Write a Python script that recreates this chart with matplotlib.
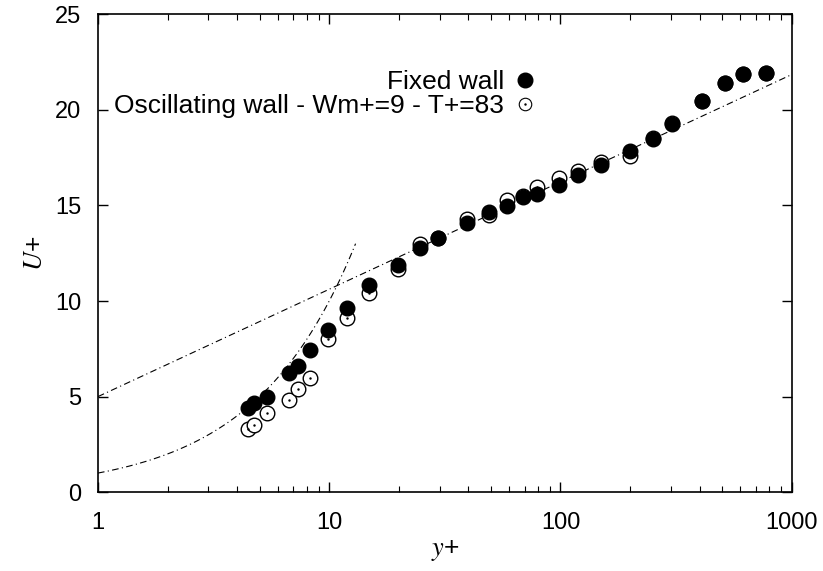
import matplotlib
matplotlib.use("Agg")
import matplotlib.pyplot as plt
import numpy as np

plt.rcParams['font.family'] = ['Liberation Sans', 'DejaVu Sans']
plt.rcParams['mathtext.fontset'] = 'stix'

# mean velocity profiles
yplus_fixed = [4.45, 4.75, 5.4, 6.7, 7.3, 8.3, 9.9, 11.9, 14.8, 19.8, 24.6, 29.6,
               39.6, 49, 59, 69, 79, 99, 119, 149, 200, 252, 305, 410, 516, 617, 776]
u_fixed = [4.39, 4.65, 4.97, 6.22, 6.59, 7.45, 8.5, 9.62, 10.85, 11.87, 12.8, 13.28,
           14.07, 14.65, 14.95, 15.43, 15.59, 16.06, 16.6, 17.1, 17.85, 18.46, 19.25,
           20.45, 21.4, 21.86, 21.92]

yplus_osc = [4.45, 4.75, 5.4, 6.7, 7.3, 8.3, 9.9, 11.9, 14.8, 19.8, 24.6, 29.6,
             39.6, 49, 59, 69, 79, 99, 119, 149, 200, 252, 305, 410, 516, 617, 776]
u_osc = [3.3, 3.5, 4.13, 4.81, 5.39, 5.96, 8.0, 9.1, 10.4, 11.66, 13.0, 13.3,
         14.28, 14.49, 15.27, 15.5, 15.95, 16.42, 16.8, 17.25, 17.6, 18.55, 19.3,
         20.45, 21.4, 21.86, 21.95]

# reference laws: viscous sublayer and log law
kappa = 0.41
B = 5.0
y_visc = np.linspace(1, 13.0, 100)
y_log = np.logspace(0, 3, 200)

fig = plt.figure(figsize=(8.23, 5.71), dpi=100)
ax = fig.add_axes([0.119, 0.138, 0.843, 0.837])

ax.plot(y_visc, y_visc, color='black', lw=0.8, dashes=(6, 3, 1, 3), zorder=1)
ax.plot(y_log, np.log(y_log) / kappa + B, color='black', lw=0.8,
        dashes=(6, 3, 1, 3), zorder=1)

ax.plot(yplus_osc, u_osc, 'o', ms=10.5, mfc='white', mec='black', mew=1.0,
        zorder=2)
ax.plot(yplus_osc, u_osc, '.', ms=1.5, color='black', zorder=2)
ax.plot(yplus_fixed, u_fixed, 'o', ms=10.5, mfc='black', mec='black', zorder=3)

# legend in gnuplot style: text first, then symbol
h1, = ax.plot([], [], 'o', ms=10.5, mfc='black', mec='black')
h2a, = ax.plot([], [], 'o', ms=9, mfc='white', mec='black', mew=0.8)
h2b, = ax.plot([], [], '.', ms=1.5, color='black')
leg = ax.legend([h1, (h2a, h2b)], ['Fixed wall', 'Oscillating wall - Wm+=9 - T+=83'],
                loc='upper right', bbox_to_anchor=(0.635, 0.883), markerfirst=False,
                frameon=False, fontsize=19, handletextpad=0.3, labelspacing=0.0,
                handlelength=1.0, borderpad=0, borderaxespad=0)
for t in leg.get_texts():
    t.set_ha('right')
leg._legend_box.align = 'right'

ax.set_xscale('log')
ax.set_xlim(1, 1000)
ax.set_ylim(0, 25)
ax.set_yticks([0, 5, 10, 15, 20, 25])
ax.set_xticks([1, 10, 100, 1000])
ax.set_xticklabels(['1', '10', '100', '1000'])
ax.minorticks_on()
ax.yaxis.set_minor_locator(matplotlib.ticker.NullLocator())
ax.tick_params(which='both', direction='in', top=True, right=True, labelsize=17)
ax.tick_params(axis='x', which='both', pad=14)
ax.tick_params(axis='y', which='both', pad=12)
ax.tick_params(which='major', length=7, width=1)
ax.tick_params(which='minor', length=4, width=0.8)
for s in ax.spines.values():
    s.set_linewidth(1.2)

ax.set_xlabel(r'$y$+', fontsize=19, labelpad=3)
ax.set_ylabel(r'$U$+', fontsize=19, labelpad=6)

fig.savefig('out.png', dpi=100)
